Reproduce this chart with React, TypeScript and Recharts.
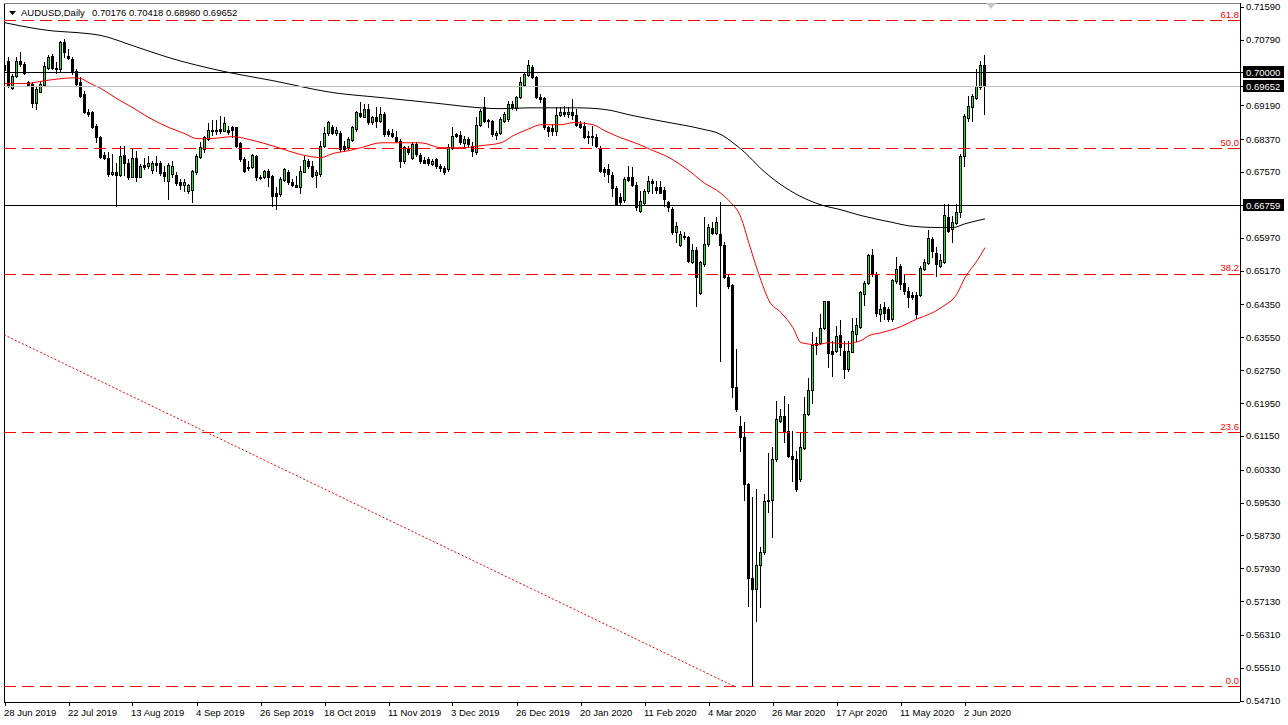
import React from "react";
import { ComposedChart, Bar, Line, XAxis, YAxis, ReferenceLine } from "recharts";

// AUDUSD daily, 28 Jun 2019 .. 9 Jun 2020 (one entry per bar)
const OPEN = [
  0.7005, 0.7028, 0.6961, 0.6991, 0.7028, 0.702, 0.6975, 0.6971, 0.6924, 0.6952,
  0.6969, 0.701, 0.704, 0.7011, 0.7007, 0.7072, 0.704, 0.7032, 0.7003, 0.6975,
  0.6947, 0.6904, 0.6902, 0.687, 0.6843, 0.6799, 0.6792, 0.6752, 0.6756, 0.675,
  0.6799, 0.678, 0.6745, 0.6792, 0.6745, 0.6775, 0.6772, 0.6762, 0.6778, 0.6778,
  0.6756, 0.6736, 0.6752, 0.675, 0.6732, 0.6726, 0.6711, 0.6713, 0.6756, 0.6793,
  0.6813, 0.6837, 0.6859, 0.6856, 0.6861, 0.6857, 0.6859, 0.6867, 0.6866, 0.6827,
  0.6788, 0.677, 0.6768, 0.6797, 0.6745, 0.6744, 0.676, 0.6748, 0.6705, 0.6703,
  0.6738, 0.6756, 0.6732, 0.6726, 0.672, 0.6758, 0.6784, 0.6772, 0.675, 0.6752,
  0.6821, 0.6853, 0.6867, 0.6851, 0.6851, 0.6821, 0.6817, 0.6835, 0.6861, 0.69,
  0.6891, 0.691, 0.6878, 0.6891, 0.6882, 0.6898, 0.6856, 0.6853, 0.6841, 0.6833,
  0.6784, 0.6813, 0.6791, 0.6825, 0.6799, 0.6786, 0.6788, 0.6776, 0.6788, 0.6772,
  0.6767, 0.6764, 0.6815, 0.6849, 0.6848, 0.6827, 0.6837, 0.6821, 0.6805, 0.6872,
  0.6914, 0.688, 0.6882, 0.6848, 0.6853, 0.6882, 0.6886, 0.6922, 0.6913, 0.6939,
  0.6969, 0.6994, 0.7013, 0.6989, 0.694, 0.6936, 0.6867, 0.6863, 0.6856, 0.6896,
  0.6902, 0.6898, 0.6902, 0.6896, 0.6874, 0.687, 0.6845, 0.6841, 0.6841, 0.6813,
  0.6764, 0.6764, 0.675, 0.6718, 0.6695, 0.669, 0.6744, 0.6744, 0.6726, 0.6661,
  0.6681, 0.671, 0.6734, 0.672, 0.672, 0.6712, 0.6683, 0.6667, 0.661, 0.658,
  0.6602, 0.66, 0.6537, 0.6566, 0.6462, 0.6533, 0.6582, 0.6621, 0.6608, 0.6606,
  0.658, 0.6502, 0.6483, 0.6235, 0.614, 0.6113, 0.5998, 0.5769, 0.5743, 0.5802,
  0.5832, 0.596, 0.5959, 0.6059, 0.6152, 0.6164, 0.6126, 0.6067, 0.6059, 0.601,
  0.6085, 0.6168, 0.6227, 0.6342, 0.634, 0.6377, 0.6442, 0.6322, 0.6322, 0.636,
  0.6322, 0.6278, 0.632, 0.6364, 0.6381, 0.646, 0.6488, 0.6556, 0.6509, 0.6411,
  0.6428, 0.6424, 0.6399, 0.6492, 0.6528, 0.6486, 0.6468, 0.6458, 0.6458, 0.6458,
  0.6521, 0.6535, 0.6594, 0.6561, 0.6529, 0.6537, 0.6648, 0.6618, 0.6634, 0.6659,
  0.6797, 0.6888, 0.6914, 0.6938, 0.6963, 0.70176,
];

const HIGH = [
  0.7024, 0.7036, 0.6995, 0.7036, 0.7048, 0.7024, 0.6979, 0.6975, 0.6967, 0.6975,
  0.7024, 0.7042, 0.7044, 0.7024, 0.7076, 0.708, 0.7056, 0.7036, 0.7007, 0.6987,
  0.6955, 0.691, 0.6906, 0.6874, 0.6845, 0.6805, 0.6805, 0.6801, 0.678, 0.6821,
  0.6821, 0.6788, 0.6813, 0.6809, 0.6776, 0.6792, 0.6797, 0.6784, 0.6797, 0.6784,
  0.6772, 0.6778, 0.6784, 0.6756, 0.674, 0.674, 0.6728, 0.6762, 0.6801, 0.6829,
  0.6845, 0.6875, 0.6883, 0.6883, 0.6894, 0.6891, 0.687, 0.687, 0.6867, 0.6829,
  0.6794, 0.6783, 0.6801, 0.6799, 0.675, 0.6762, 0.6764, 0.675, 0.672, 0.6744,
  0.6767, 0.6762, 0.674, 0.6748, 0.6772, 0.6797, 0.6788, 0.6784, 0.6762, 0.6833,
  0.6866, 0.688, 0.6872, 0.6866, 0.6856, 0.6833, 0.6841, 0.687, 0.6906, 0.6926,
  0.6922, 0.6922, 0.6894, 0.6914, 0.6914, 0.6902, 0.6861, 0.6861, 0.6857, 0.6837,
  0.6821, 0.6821, 0.6829, 0.6829, 0.6802, 0.6793, 0.6793, 0.6788, 0.6791, 0.6776,
  0.6772, 0.6825, 0.6866, 0.6853, 0.6857, 0.6845, 0.6841, 0.6829, 0.689, 0.691,
  0.6939, 0.6886, 0.6883, 0.6857, 0.689, 0.6902, 0.693, 0.693, 0.6943, 0.6987,
  0.6999, 0.7029, 0.7018, 0.6991, 0.6947, 0.6939, 0.687, 0.6874, 0.6914, 0.6914,
  0.6918, 0.6914, 0.6934, 0.691, 0.688, 0.6878, 0.6857, 0.687, 0.6849, 0.6821,
  0.6768, 0.6776, 0.6756, 0.6724, 0.6707, 0.6744, 0.6772, 0.6768, 0.6732, 0.6711,
  0.6715, 0.6748, 0.674, 0.6736, 0.6736, 0.672, 0.6687, 0.6671, 0.6635, 0.6614,
  0.661, 0.6602, 0.6582, 0.6574, 0.6541, 0.6647, 0.663, 0.6635, 0.6647, 0.6685,
  0.6586, 0.6509, 0.6484, 0.6326, 0.6164, 0.6148, 0.6, 0.5966, 0.5986, 0.5844,
  0.5974, 0.6074, 0.6089, 0.6201, 0.618, 0.6213, 0.6192, 0.6128, 0.6079, 0.6124,
  0.6209, 0.6257, 0.6367, 0.6355, 0.6411, 0.6444, 0.6444, 0.6347, 0.6383, 0.6397,
  0.6347, 0.6347, 0.6403, 0.6403, 0.6468, 0.6493, 0.6557, 0.657, 0.6513, 0.6436,
  0.644, 0.6428, 0.6496, 0.6549, 0.6533, 0.6509, 0.6478, 0.6464, 0.6464, 0.6529,
  0.6545, 0.6616, 0.6598, 0.6574, 0.6557, 0.6679, 0.6679, 0.6651, 0.6679, 0.6801,
  0.6898, 0.6943, 0.6947, 0.7007, 0.7028, 0.70418,
];

const LOW = [
  0.6991, 0.6963, 0.6959, 0.6987, 0.7015, 0.6995, 0.6967, 0.6916, 0.691, 0.6951,
  0.6967, 0.7007, 0.7007, 0.6997, 0.7003, 0.7036, 0.7032, 0.6995, 0.6969, 0.694,
  0.69, 0.6894, 0.6864, 0.6829, 0.6791, 0.6788, 0.6748, 0.675, 0.6675, 0.6748,
  0.675, 0.674, 0.6744, 0.6736, 0.6744, 0.6764, 0.6767, 0.6754, 0.676, 0.675,
  0.6734, 0.6691, 0.6744, 0.6726, 0.6715, 0.6711, 0.6707, 0.6685, 0.6752, 0.6791,
  0.6805, 0.6835, 0.6848, 0.6849, 0.6853, 0.6856, 0.6849, 0.6841, 0.6817, 0.6784,
  0.6758, 0.6762, 0.6767, 0.6737, 0.674, 0.6742, 0.6724, 0.6675, 0.6668, 0.6699,
  0.6736, 0.6728, 0.6724, 0.672, 0.6707, 0.6756, 0.6767, 0.6744, 0.6721, 0.6748,
  0.6818, 0.6848, 0.6849, 0.6848, 0.6809, 0.6809, 0.6813, 0.6833, 0.6857, 0.689,
  0.689, 0.6874, 0.6874, 0.6866, 0.6878, 0.6845, 0.6845, 0.6841, 0.6829, 0.677,
  0.678, 0.6801, 0.6788, 0.6797, 0.678, 0.6778, 0.6775, 0.6775, 0.6767, 0.676,
  0.6752, 0.676, 0.6813, 0.6841, 0.6825, 0.6821, 0.6817, 0.6797, 0.6801, 0.687,
  0.6878, 0.6866, 0.6845, 0.6837, 0.6849, 0.6878, 0.6882, 0.691, 0.6908, 0.6937,
  0.6967, 0.6991, 0.6986, 0.6937, 0.6926, 0.6861, 0.6845, 0.6848, 0.6848, 0.6894,
  0.6894, 0.689, 0.6886, 0.687, 0.6864, 0.684, 0.6827, 0.6823, 0.6817, 0.6756,
  0.6748, 0.6732, 0.6699, 0.6677, 0.6679, 0.6685, 0.6734, 0.6724, 0.6664, 0.6659,
  0.6679, 0.6707, 0.6707, 0.6707, 0.6707, 0.6675, 0.6663, 0.6606, 0.6586, 0.6578,
  0.6594, 0.6537, 0.6535, 0.6432, 0.6459, 0.6529, 0.6578, 0.6606, 0.6606, 0.6298,
  0.6499, 0.6476, 0.621, 0.6176, 0.6079, 0.5959, 0.5702, 0.5507, 0.5665, 0.5698,
  0.5828, 0.5929, 0.5868, 0.6055, 0.6148, 0.6099, 0.6063, 0.6006, 0.598, 0.6006,
  0.6083, 0.6167, 0.6194, 0.6314, 0.6338, 0.6375, 0.6282, 0.6261, 0.6318, 0.6312,
  0.6256, 0.6274, 0.6318, 0.6347, 0.6377, 0.6434, 0.6484, 0.6505, 0.6407, 0.6395,
  0.6399, 0.6395, 0.6395, 0.6488, 0.6472, 0.646, 0.6428, 0.6448, 0.6403, 0.6456,
  0.6518, 0.6533, 0.6549, 0.6505, 0.6525, 0.6535, 0.6612, 0.6586, 0.663, 0.6647,
  0.6772, 0.688, 0.688, 0.6934, 0.6959, 0.6898,
];

const CLOSE = [
  0.7017, 0.6967, 0.6991, 0.7028, 0.702, 0.6997, 0.6969, 0.6924, 0.6959, 0.6971,
  0.7015, 0.7037, 0.7011, 0.7007, 0.7072, 0.705, 0.7034, 0.6999, 0.6971, 0.6943,
  0.6904, 0.6898, 0.6867, 0.6841, 0.6794, 0.6792, 0.6752, 0.6757, 0.675, 0.6797,
  0.6778, 0.6744, 0.6792, 0.6745, 0.6772, 0.6768, 0.6778, 0.6778, 0.6773, 0.6754,
  0.6748, 0.6775, 0.6772, 0.6729, 0.6726, 0.6732, 0.6726, 0.676, 0.6797, 0.6817,
  0.6843, 0.6859, 0.6856, 0.6859, 0.6857, 0.6875, 0.6855, 0.6859, 0.6821, 0.6788,
  0.676, 0.6767, 0.6799, 0.6744, 0.6742, 0.676, 0.6744, 0.6699, 0.6699, 0.674,
  0.6764, 0.6732, 0.6726, 0.6721, 0.676, 0.6786, 0.6772, 0.6748, 0.6758, 0.6821,
  0.6853, 0.6878, 0.6853, 0.6859, 0.6813, 0.6813, 0.6837, 0.6866, 0.6902, 0.6894,
  0.691, 0.6878, 0.6891, 0.6882, 0.6898, 0.6849, 0.6849, 0.6845, 0.6833, 0.6784,
  0.6817, 0.6805, 0.6825, 0.6801, 0.6784, 0.678, 0.6778, 0.6784, 0.6772, 0.6767,
  0.6758, 0.6817, 0.6845, 0.6845, 0.6829, 0.6837, 0.6825, 0.6809, 0.6872, 0.6906,
  0.6882, 0.6883, 0.6849, 0.6853, 0.6886, 0.6898, 0.6922, 0.6914, 0.694, 0.6977,
  0.6995, 0.7016, 0.6987, 0.694, 0.6934, 0.6866, 0.6857, 0.6856, 0.6896, 0.6902,
  0.6898, 0.6902, 0.6896, 0.6872, 0.6867, 0.6843, 0.6841, 0.6845, 0.6821, 0.676,
  0.6758, 0.6752, 0.6718, 0.6679, 0.6683, 0.674, 0.6737, 0.6726, 0.6671, 0.6687,
  0.6711, 0.6736, 0.6729, 0.6713, 0.6707, 0.6691, 0.6671, 0.661, 0.6626, 0.6606,
  0.6598, 0.6541, 0.6566, 0.6502, 0.6539, 0.6582, 0.6624, 0.6608, 0.6635, 0.658,
  0.6502, 0.648, 0.6233, 0.618, 0.6112, 0.5998, 0.5769, 0.5743, 0.5802, 0.5832,
  0.5957, 0.5956, 0.6059, 0.6156, 0.6164, 0.6126, 0.6067, 0.6059, 0.5986, 0.6087,
  0.6168, 0.6227, 0.6337, 0.6337, 0.6377, 0.6442, 0.6316, 0.6314, 0.6359, 0.6332,
  0.6278, 0.6321, 0.6371, 0.6385, 0.6464, 0.6488, 0.6556, 0.6509, 0.6413, 0.6424,
  0.6415, 0.6399, 0.6494, 0.6522, 0.6484, 0.6468, 0.6452, 0.6452, 0.6411, 0.6523,
  0.6537, 0.6596, 0.6565, 0.6533, 0.6543, 0.6653, 0.6614, 0.6636, 0.666, 0.6797,
  0.6894, 0.6918, 0.6943, 0.6967, 0.7018, 0.69652,
];

// moving averages: [bar, price]
const SLOW_MA = [
  [0, 0.712], [12, 0.71], [18, 0.7096], [24, 0.7089], [32, 0.7064], [41, 0.7035],
  [54, 0.7003], [67, 0.6979], [82, 0.695], [94, 0.6938], [106, 0.6926], [124, 0.6911],
  [131, 0.6913], [143, 0.6913], [150, 0.6909], [157, 0.6894], [165, 0.6879], [174, 0.6862],
  [179, 0.6848], [182, 0.6828], [185, 0.6804], [189, 0.6765], [194, 0.6726], [199, 0.6697],
  [204, 0.6677], [209, 0.6665], [214, 0.6651], [222, 0.6634], [226, 0.6626], [233, 0.6622],
  [237, 0.6622], [240, 0.6631], [245, 0.6643],
];

const FAST_MA = [
  [0, 0.6972], [5, 0.6972], [10, 0.6979], [14, 0.6984], [17, 0.6986], [19, 0.6984],
  [21, 0.6974], [24, 0.696], [28, 0.6935], [32, 0.6913], [36, 0.6889], [41, 0.6865],
  [45, 0.685], [48, 0.6838], [51, 0.6838], [57, 0.6843], [61, 0.6836], [65, 0.6826],
  [69, 0.6814], [75, 0.6797], [79, 0.6792], [82, 0.6802], [86, 0.6809], [89, 0.6816],
  [94, 0.6828], [104, 0.6828], [109, 0.6816], [114, 0.6816], [119, 0.6821], [124, 0.6828],
  [127, 0.6845], [131, 0.6862], [134, 0.6872], [139, 0.6872], [142, 0.6877], [147, 0.6872],
  [150, 0.6857], [154, 0.684], [158, 0.6826], [162, 0.6809], [165, 0.6797], [171, 0.676],
  [175, 0.6729], [178, 0.6712], [181, 0.6687], [184, 0.6646], [186, 0.6583], [189, 0.6493],
  [191, 0.6444], [194, 0.6415], [197, 0.6378], [199, 0.6342], [203, 0.6337], [206, 0.6342],
  [210, 0.6339], [214, 0.6347], [216, 0.6359], [219, 0.6366], [224, 0.6381], [227, 0.6395],
  [234, 0.6427], [238, 0.6461], [240, 0.65], [243, 0.6541], [245, 0.6573],
];

const DATE_TICK_BARS = [0, 16, 32, 48, 64, 80, 96, 112, 128, 144, 160, 176, 192, 208, 224, 240];
const DATE_LABELS = [
  "28 Jun 2019", "22 Jul 2019", "13 Aug 2019", "4 Sep 2019", "26 Sep 2019", "18 Oct 2019",
  "11 Nov 2019", "3 Dec 2019", "26 Dec 2019", "20 Jan 2020", "11 Feb 2020", "4 Mar 2020",
  "26 Mar 2020", "17 Apr 2020", "11 May 2020", "2 Jun 2020",
];

const PRICE_TICKS = [
  0.7159, 0.7079, 0.7, 0.69652, 0.6919, 0.6837, 0.6757, 0.66759, 0.6597, 0.6517, 0.6435,
  0.6355, 0.6275, 0.6195, 0.6115, 0.6033, 0.5953, 0.5873, 0.5793, 0.5713, 0.5631, 0.5551,
  0.5471,
];
const BOXED_TICKS = [0.7, 0.69652, 0.66759];

const FIB_LEVELS = [
  { label: "61.8", value: 0.7125 },
  { label: "50.0", value: 0.6814 },
  { label: "38.2", value: 0.6508 },
  { label: "23.6", value: 0.6123 },
  { label: "0.0", value: 0.5505 },
];
const LEVEL_LINES = [0.7, 0.66759];
const BID = 0.69652;
const TREND = [
  { x: -0.25, y: 0.6361 },
  { x: 182.5, y: 0.5505 },
];

const HEADER = { symbol: "AUDUSD,Daily", ohlc: "0.70176 0.70418 0.68980 0.69652" };

const FONT = "'Liberation Sans', Arial, sans-serif";
const GREEN = "#22dd22";
const X_DOMAIN: [number, number] = [-0.25, 308.75];
const Y_DOMAIN: [number, number] = [0.54678, 0.7168];

function Candle(props: any) {
  const { x, y, width, height, payload } = props;
  if (!payload || height == null || isNaN(y)) return null;
  const { open, close, high, low } = payload;
  const span = high - low || 1e-9;
  const py = (v: number) => y + ((high - v) / span) * height;
  const cx = Math.floor(x + width / 2) + 0.5;
  const top = Math.round(py(Math.max(open, close)));
  const bot = Math.round(py(Math.min(open, close)));
  const up = close >= open;
  return (
    <g shapeRendering="crispEdges">
      <line x1={cx} x2={cx} y1={Math.round(y)} y2={Math.round(y + height) + 1} stroke="#000" />
      {bot - top >= 1 ? (
        <rect x={cx - 1} y={top + 0.5} width={2} height={bot - top} fill={up ? GREEN : "#000"} stroke="#000" />
      ) : (
        <line x1={cx - 1.5} x2={cx + 1.5} y1={top + 0.5} y2={top + 0.5} stroke="#000" />
      )}
    </g>
  );
}

// horizontal reference line snapped to a pixel row
function SnapLine(props: any) {
  const { x1, x2, y1, stroke, strokeDasharray } = props;
  if (y1 == null || isNaN(y1)) return null;
  const y = Math.floor(y1) + 0.5;
  return <line x1={x1} x2={x2} y1={y} y2={y} stroke={stroke} strokeWidth={1} strokeDasharray={strokeDasharray} />;
}

function DateTick(props: any) {
  const { x, y, payload } = props;
  const idx = DATE_TICK_BARS.indexOf(payload.value);
  const px = Math.floor(x) + 0.5;
  return (
    <g>
      <line x1={px} x2={px} y1={y} y2={y + 4} stroke="#000" shapeRendering="crispEdges" />
      <text x={Math.floor(x) - 1} y={y + 14} fontSize={9.5} fontFamily={FONT} fill="#000" textAnchor="start">
        {DATE_LABELS[idx]}
      </text>
    </g>
  );
}

function PriceTick(props: any) {
  const { x, y, payload } = props;
  const v = payload.value as number;
  const boxed = BOXED_TICKS.includes(v);
  const py = Math.round(y) + 0.5;
  return (
    <g>
      <line x1={x} x2={x + 4} y1={py} y2={py} stroke="#000" shapeRendering="crispEdges" />
      {boxed && <rect x={x + 3} y={Math.round(y) - 6} width={41} height={12} fill="#000" />}
      <text x={x + 6} y={y + 3.5} fontSize={9.5} fontFamily={FONT} fill={boxed ? "#fff" : "#000"}>
        {v.toFixed(5)}
      </text>
    </g>
  );
}

function FibLabel(props: any) {
  const { viewBox, text } = props;
  if (!viewBox) return null;
  return (
    <text x={viewBox.x + viewBox.width - 1} y={viewBox.y - 3} textAnchor="end" fontSize={9.5} fontFamily={FONT} fill="#ff0000">
      {text}
    </text>
  );
}

export default function App() {
  const slow = new Map(SLOW_MA.map(([b, v]) => [b, v]));
  const fast = new Map(FAST_MA.map(([b, v]) => [b, v]));
  const rows = OPEN.map((open, i) => ({
    i,
    open,
    high: HIGH[i],
    low: LOW[i],
    close: CLOSE[i],
    range: [LOW[i], HIGH[i]],
    slow: slow.get(i),
    fast: fast.get(i),
  }));

  return (
    <div style={{ position: "absolute", left: 0, top: 0, width: 1288, height: 725, background: "#fff", fontFamily: FONT }}>
      <ComposedChart width={1288} height={725} data={rows} margin={{ top: 3, right: 0, bottom: 3, left: 4 }}>
        <XAxis
          dataKey="i"
          type="number"
          domain={X_DOMAIN}
          allowDataOverflow
          ticks={DATE_TICK_BARS}
          interval={0}
          tick={<DateTick />}
          tickLine={false}
          tickSize={0}
          tickMargin={0}
          height={20}
          axisLine={{ stroke: "#000", shapeRendering: "crispEdges" }}
        />
        <YAxis
          orientation="right"
          type="number"
          domain={Y_DOMAIN}
          allowDataOverflow
          ticks={PRICE_TICKS}
          interval={0}
          tick={<PriceTick />}
          tickLine={false}
          tickSize={0}
          tickMargin={0}
          width={48}
          axisLine={{ stroke: "#000", shapeRendering: "crispEdges" }}
        />
        {/* frame */}
        <ReferenceLine x={X_DOMAIN[0]} stroke="#000" shapeRendering="crispEdges" />
        <ReferenceLine y={Y_DOMAIN[1]} stroke="#808080" shape={(p: any) => <SnapLine {...p} />} />

        <Bar dataKey="range" barSize={3} isAnimationActive={false} shape={(p: any) => <Candle {...p} />} />

        <Line dataKey="slow" type="monotone" stroke="#000" strokeWidth={1} dot={false} activeDot={false} connectNulls isAnimationActive={false} />
        <Line dataKey="fast" type="monotone" stroke="#ff0000" strokeWidth={1} dot={false} activeDot={false} connectNulls isAnimationActive={false} />

        <ReferenceLine y={BID} stroke="#c0c0c0" shape={(p: any) => <SnapLine {...p} />} />
        {LEVEL_LINES.map((v) => (
          <ReferenceLine key={v} y={v} stroke="#000" shape={(p: any) => <SnapLine {...p} />} />
        ))}
        {FIB_LEVELS.map((f) => (
          <ReferenceLine
            key={f.label}
            y={f.value}
            stroke="#ff0000"
            strokeDasharray="12 6"
            shape={(p: any) => <SnapLine {...p} stroke="#ff0000" strokeDasharray="12 6" />}
            label={<FibLabel text={f.label} />}
          />
        ))}
        <ReferenceLine segment={TREND} stroke="#ff0000" strokeDasharray="2 2" />
      </ComposedChart>

      <div style={{ position: "absolute", left: 9, top: 11 }}>
        <svg width={7} height={4} style={{ display: "block" }}>
          <polygon points="0,0 7,0 3.5,4" fill="#000" />
        </svg>
      </div>
      <div style={{ position: "absolute", left: 21, top: 7, fontSize: 9.5, lineHeight: "11px", whiteSpace: "pre", color: "#000" }}>
        {HEADER.symbol}
      </div>
      <div style={{ position: "absolute", left: 92, top: 7, fontSize: 9.5, lineHeight: "11px", whiteSpace: "pre", color: "#000" }}>
        {HEADER.ohlc}
      </div>
      <div style={{ position: "absolute", left: 986, top: 3 }}>
        <svg width={10} height={6} style={{ display: "block" }}>
          <polygon points="0,0 10,0 5,6" fill="#c8c8c8" />
        </svg>
      </div>
    </div>
  );
}
